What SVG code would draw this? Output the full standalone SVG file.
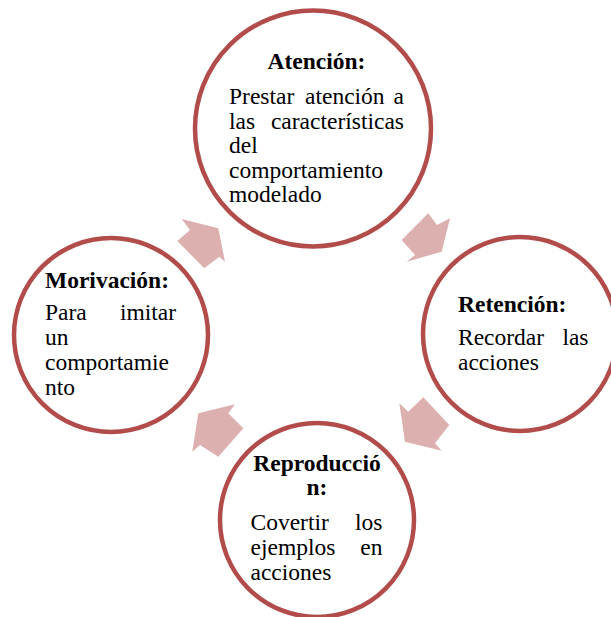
<svg xmlns="http://www.w3.org/2000/svg" width="611" height="617" viewBox="0 0 611 617">
<style>
.node circle{fill:#fff;stroke:#B24C4A;stroke-width:4.5}
.arr{fill:#DDB0B0}
text{font-family:"Liberation Serif","Times New Roman",serif;font-size:23.5px;fill:#000}
.t{font-weight:bold}
.m{text-anchor:middle}
.e{text-anchor:end}
</style>
<rect width="611" height="617" fill="#fff"/>
<g id="connectors">
<polygon class="arr" points="177.3,241 190,230 181.7,219 218.3,228.3 225,261.7 219.3,256.7 204.3,268.3"/>
<polygon class="arr" points="428.3,213.3 437,225 450,218.3 441.7,251.7 406.7,261.7 415,255 401.7,240"/>
<polygon class="arr" points="423.3,397.3 449.3,425 435,443.3 441.7,450.7 405,441.7 399.3,403.3 408.3,411.7"/>
<polygon class="arr" points="243.3,428.3 228.3,413.3 235,404.3 198.3,413.3 192.3,451.7 200,445 218.3,456.7"/>
</g>
<g id="atencion" class="node">
<circle cx="313" cy="128.5" r="118"/>
<text class="t m" x="316.5" y="69">Atención:</text>
<text x="229" y="104">Prestar</text>
<text x="305" y="104">atención</text>
<text class="e" x="404" y="104">a</text>
<text x="229" y="128.5">las</text>
<text class="e" x="404" y="128.5">características</text>
<text x="229" y="153">del</text>
<text x="229" y="177.5">comportamiento</text>
<text x="229" y="202">modelado</text>
</g>
<g id="retencion" class="node">
<circle cx="520" cy="334" r="97"/>
<text class="t" x="458" y="311.5">Retención:</text>
<text x="458" y="345">Recordar</text>
<text class="e" x="588.5" y="345">las</text>
<text x="458" y="370">acciones</text>
</g>
<g id="reproduccion" class="node">
<circle cx="317" cy="520" r="97"/>
<text class="t m" x="317" y="470.5">Reproducció</text>
<text class="t m" x="317" y="495">n:</text>
<text x="250.5" y="530">Covertir</text>
<text class="e" x="382.5" y="530">los</text>
<text x="250.5" y="555">ejemplos</text>
<text class="e" x="382.5" y="555">en</text>
<text x="250.5" y="580">acciones</text>
</g>
<g id="motivacion" class="node">
<circle cx="111" cy="335" r="97"/>
<text class="t" x="45" y="287.5">Morivación:</text>
<text x="45" y="320">Para</text>
<text class="e" x="176" y="320">imitar</text>
<text x="45" y="345">un</text>
<text x="45" y="370">comportamie</text>
<text x="45" y="395">nto</text>
</g>
</svg>
